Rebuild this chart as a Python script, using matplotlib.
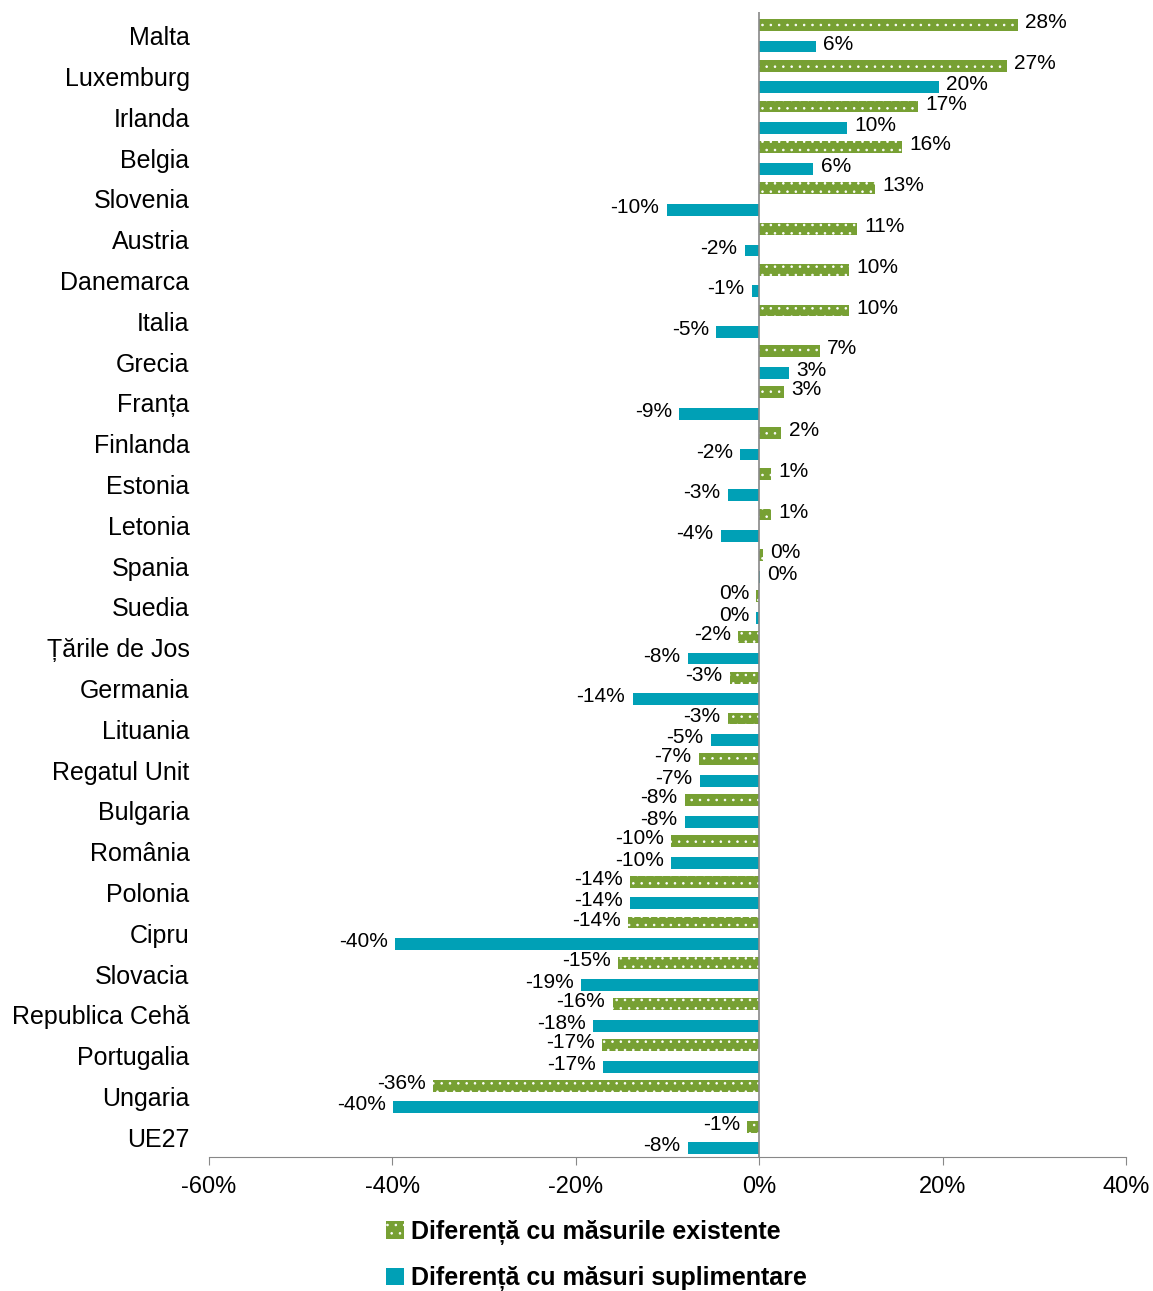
import numpy as np
import matplotlib
matplotlib.use("Agg")
from matplotlib import pyplot as plt

# values (percent)
countries = ["Malta", "Luxemburg", "Irlanda", "Belgia", "Slovenia", "Austria", "Danemarca",
             "Italia", "Grecia", "Franța", "Finlanda", "Estonia", "Letonia", "Spania", "Suedia",
             "Țările de Jos", "Germania", "Lituania", "Regatul Unit", "Bulgaria", "România",
             "Polonia", "Cipru", "Slovacia", "Republica Cehă", "Portugalia", "Ungaria", "UE27"]
existing = [28.2, 27.0, 17.3, 15.6, 12.6, 10.7, 9.8, 9.8, 6.6, 2.7, 2.4, 1.3, 1.3, 0.4, -0.3,
            -2.3, -3.2, -3.4, -6.6, -8.1, -9.6, -14.1, -14.3, -15.4, -16.0, -17.1, -35.6, -1.3]
additional = [6.2, 19.6, 9.6, 5.9, -10.1, -1.6, -0.8, -4.7, 3.2, -8.7, -2.1, -3.4, -4.2, 0.05, -0.3,
              -7.8, -13.8, -5.3, -6.5, -8.1, -9.6, -14.1, -39.7, -19.4, -18.1, -17.0, -39.9, -7.8]
existing_lbl = ["28%", "27%", "17%", "16%", "13%", "11%", "10%", "10%", "7%", "3%", "2%", "1%", "1%",
                "0%", "0%", "-2%", "-3%", "-3%", "-7%", "-8%", "-10%", "-14%", "-14%", "-15%",
                "-16%", "-17%", "-36%", "-1%"]
additional_lbl = ["6%", "20%", "10%", "6%", "-10%", "-2%", "-1%", "-5%", "3%", "-9%", "-2%", "-3%",
                  "-4%", "0%", "0%", "-8%", "-14%", "-5%", "-7%", "-8%", "-10%", "-14%", "-40%",
                  "-19%", "-18%", "-17%", "-40%", "-8%"]

green = "#77A033"
blue = "#00A0B6"
plt.rcParams["font.family"] = ["Liberation Sans", "DejaVu Sans"]
plt.rcParams["hatch.linewidth"] = 0.6

fig = plt.figure(figsize=(11.53, 12.91), dpi=100)
ax = fig.add_axes([0.1813, 0.1038, 0.7953, 0.8869])

y = np.arange(len(countries))
h = 0.29
off = 0.265
b1 = ax.barh(y - off, existing, height=h, color=green, edgecolor="white", linewidth=0,
             hatch="..", label="Diferență cu măsurile existente")
b2 = ax.barh(y + off, additional, height=h, color=blue, linewidth=0,
             label="Diferență cu măsuri suplimentare")

for yy, v, t in zip(y - off, existing, existing_lbl):
    if v >= 0:
        ax.text(v + 0.8, yy - 0.06, t, ha="left", va="center", fontsize=15)
    else:
        ax.text(v - 0.8, yy - 0.06, t, ha="right", va="center", fontsize=15)
for yy, v, t in zip(y + off, additional, additional_lbl):
    if v >= 0:
        ax.text(v + 0.8, yy - 0.06, t, ha="left", va="center", fontsize=15)
    else:
        ax.text(v - 0.8, yy - 0.06, t, ha="right", va="center", fontsize=15)

ax.set_xlim(-60, 40)
ax.set_ylim(len(countries) - 0.52, -0.58)
ax.set_xticks([-60, -40, -20, 0, 20, 40])
ax.set_xticklabels(["-60%", "-40%", "-20%", "0%", "20%", "40%"], fontsize=17)
ax.set_yticks(y)
ax.set_yticklabels(countries, fontsize=18)
ax.tick_params(axis="y", length=0, pad=14)
ax.tick_params(axis="x", length=6, color="#888888", direction="out", pad=8)
for s in ["top", "right", "left"]:
    ax.spines[s].set_visible(False)
ax.spines["bottom"].set_color("#888888")
ax.axvline(0, color="#888888", linewidth=1.2)

leg = fig.legend(handles=[b1, b2], loc="upper left", bbox_to_anchor=(0.3348, 0.055),
                 frameon=False, ncol=1, handlelength=0.7, handleheight=0.7,
                 handletextpad=0.3, labelspacing=0.85, borderpad=0, borderaxespad=0,
                 prop={"weight": "bold", "size": 18})

fig.savefig("out.png", dpi=100)
